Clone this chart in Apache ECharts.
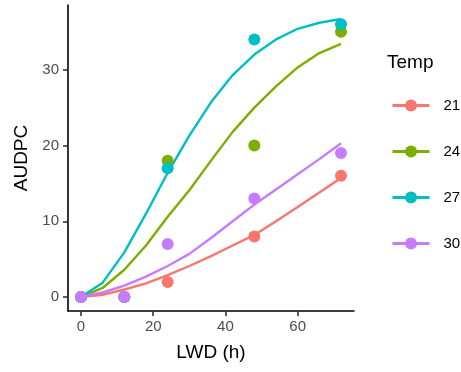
<!DOCTYPE html>
<html>
<head>
<meta charset="utf-8">
<script src="https://cdn.jsdelivr.net/npm/echarts@6/dist/echarts.min.js"></script>
<style>
  html, body { margin: 0; padding: 0; background: #fff; }
  #chart { width: 461px; height: 372px; }
</style>
</head>
<body>
<div id="chart"></div>
<script>
// Observed AUDPC at each leaf wetness duration, one list per temperature
const temps = ['21', '24', '27', '30'];
const colors = ['#F8766D', '#7CAE00', '#00BFC4', '#C77CFF'];
const lwdObs = [0, 12, 24, 48, 72];
const obs21 = [0, 0, 2, 8, 16];
const obs24 = [0, 0, 18, 20, 35];
const obs27 = [0, 0, 17, 34, 36];
const obs30 = [0, 0, 7, 13, 19];

// Fitted curves sampled every 6 h
const lwdFit = [0, 6, 12, 18, 24, 30, 36, 42, 48, 54, 60, 66, 72];
const fit21 = [0, 0.3, 1.0, 1.8, 2.9, 4.1, 5.4, 6.8, 8.2, 10.0, 11.9, 13.8, 15.7];
const fit24 = [0, 1.2, 3.6, 6.8, 10.6, 14.1, 18.0, 21.8, 25.0, 27.8, 30.3, 32.2, 33.4];
const fit27 = [0, 1.9, 5.9, 11.0, 16.4, 21.3, 25.7, 29.3, 32.0, 34.0, 35.4, 36.2, 36.7];
const fit30 = [0, 0.6, 1.5, 2.7, 4.1, 5.7, 7.8, 10.0, 12.2, 14.2, 16.2, 18.2, 20.3];

const xTicks = [0, 20, 40, 60];
const yTicks = [0, 10, 20, 30];

const obsSets = [obs21, obs24, obs27, obs30];
const fitSets = [fit21, fit24, fit27, fit30];
const pair = (xs, ys) => xs.map((x, i) => [x, ys[i]]);

const FONT = '"Liberation Sans", Arial, sans-serif';

const lineSeries = temps.map((t, i) => ({
  name: t,
  type: 'line',
  data: pair(lwdFit, fitSets[i]),
  symbol: 'circle',
  symbolSize: 12,
  showSymbol: false,
  smooth: false,
  lineStyle: { color: colors[i], width: 2.4 },
  itemStyle: { color: colors[i] },
  silent: true,
  z: 2
}));

const pointSeries = temps.map((t, i) => ({
  name: t,
  type: 'scatter',
  data: pair(lwdObs, obsSets[i]),
  symbol: 'circle',
  symbolSize: 12,
  itemStyle: { color: colors[i], opacity: 1 },
  silent: true,
  z: 3
}));

const chart = echarts.init(document.getElementById('chart'), null, { renderer: 'canvas' });
chart.setOption({
  animation: false,
  backgroundColor: '#ffffff',
  textStyle: { fontFamily: FONT },
  title: {
    text: 'Temp',
    left: 387,
    top: 53,
    padding: 0,
    textStyle: { fontFamily: FONT, fontSize: 19, fontWeight: 'normal', color: '#000' }
  },
  legend: {
    orient: 'vertical',
    left: 391,
    top: 98,
    padding: 0,
    itemWidth: 37,
    itemHeight: 15,
    itemGap: 31,
    data: temps,
    lineStyle: { width: 3 },
    textStyle: { fontFamily: FONT, fontSize: 15, color: '#000', padding: [0, 0, 0, 9] }
  },
  grid: { left: 68, right: 107, top: 5, bottom: 61, containLabel: false },
  xAxis: {
    type: 'value',
    min: -3.6,
    max: 75.6,
    name: 'LWD (h)',
    nameLocation: 'middle',
    nameGap: 32,
    nameTextStyle: { fontFamily: FONT, fontSize: 19, color: '#000' },
    axisLine: { show: true, onZero: false, lineStyle: { color: '#000', width: 1.6 } },
    axisTick: { show: true, length: 5, customValues: xTicks, lineStyle: { color: '#333', width: 1.6 } },
    axisLabel: { customValues: xTicks, margin: 8, fontFamily: FONT, fontSize: 15, color: '#4D4D4D' },
    splitLine: { show: false }
  },
  yAxis: {
    type: 'value',
    min: -1.84,
    max: 38.54,
    name: 'AUDPC',
    nameLocation: 'middle',
    nameGap: 37,
    nameTextStyle: { fontFamily: FONT, fontSize: 19, color: '#000' },
    axisLine: { show: true, onZero: false, lineStyle: { color: '#000', width: 1.6 } },
    axisTick: { show: true, length: 5, customValues: yTicks, lineStyle: { color: '#333', width: 1.6 } },
    axisLabel: { customValues: yTicks, margin: 9, fontFamily: FONT, fontSize: 15, color: '#4D4D4D' },
    splitLine: { show: false }
  },
  series: lineSeries.concat(pointSeries)
});
</script>
</body>
</html>
